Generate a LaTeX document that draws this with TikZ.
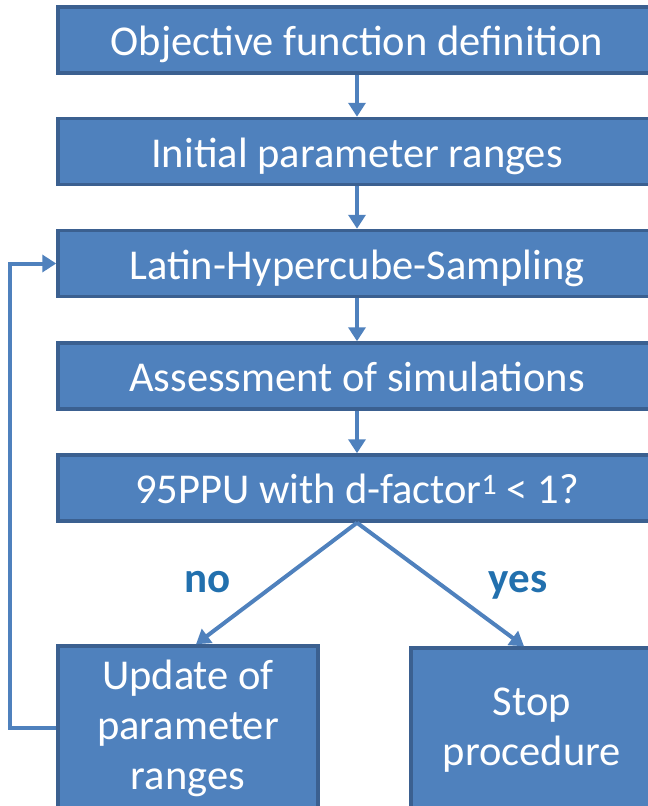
\documentclass[tikz,border=0pt]{standalone}
\usepackage{fontspec}
\setmainfont{Carlito}
\usetikzlibrary{arrows.meta,calc}
\definecolor{boxfill}{HTML}{4F81BD}
\definecolor{boxedge}{HTML}{3B6090}
\definecolor{lblcol}{HTML}{2270AE}
\tikzset{
  flowbox/.style={rectangle, fill=boxfill, draw=boxedge, line width=3.5pt,
    text=white, font=\fontsize{42.5}{50}\selectfont, inner sep=0pt, align=center},
  widebox/.style={flowbox, minimum width=598pt, minimum height=66pt,
    text height=31pt, text depth=0pt},
  flowarrow/.style={draw=boxfill, line width=4pt,
    -{Triangle[width=17pt,length=14pt]}},
  answer/.style={text=lblcol, font=\fontsize{43}{50}\selectfont\bfseries, anchor=base}
}
\begin{document}
\begin{tikzpicture}[x=1pt,y=-1pt]
\useasboundingbox (0,0) rectangle (648,806);
\node[widebox] (b1) at (357,40) {Objective function definition};
\node[widebox] (b2) at (357,151.5) {Initial parameter ranges};
\node[widebox] (b3) at (357,263.5) {Latin-Hypercube-Sampling};
\node[widebox] (b4) at (357,376) {Assessment of simulations};
\node[widebox] (b5) at (357,488) {95PPU with d-factor\textsuperscript{1} < 1?};
\node[flowbox, minimum width=260pt, minimum height=164pt] (b6) at (188,728) {Update of\\parameter\\ranges};
\node[flowbox, minimum width=242pt, minimum height=164pt] (b7) at (532,730) {Stop\\procedure};
\node[answer] (no) at (208,592) {no};
\node[answer] (yes) at (518,592) {yes};
\draw[flowarrow] (b1.south) -- (b2.north);
\draw[flowarrow] (b2.south) -- (b3.north);
\draw[flowarrow] (b3.south) -- (b4.north);
\draw[flowarrow] (b4.south) -- (b5.north);
\draw[flowarrow] (b5.south) -- ([xshift=8pt]b6.north);
\draw[flowarrow] (b5.south) -- ([xshift=-8pt]b7.north);
\draw[flowarrow] (b6.west) -- ++(-46,0) |- (b3.west);
\end{tikzpicture}
\end{document}
